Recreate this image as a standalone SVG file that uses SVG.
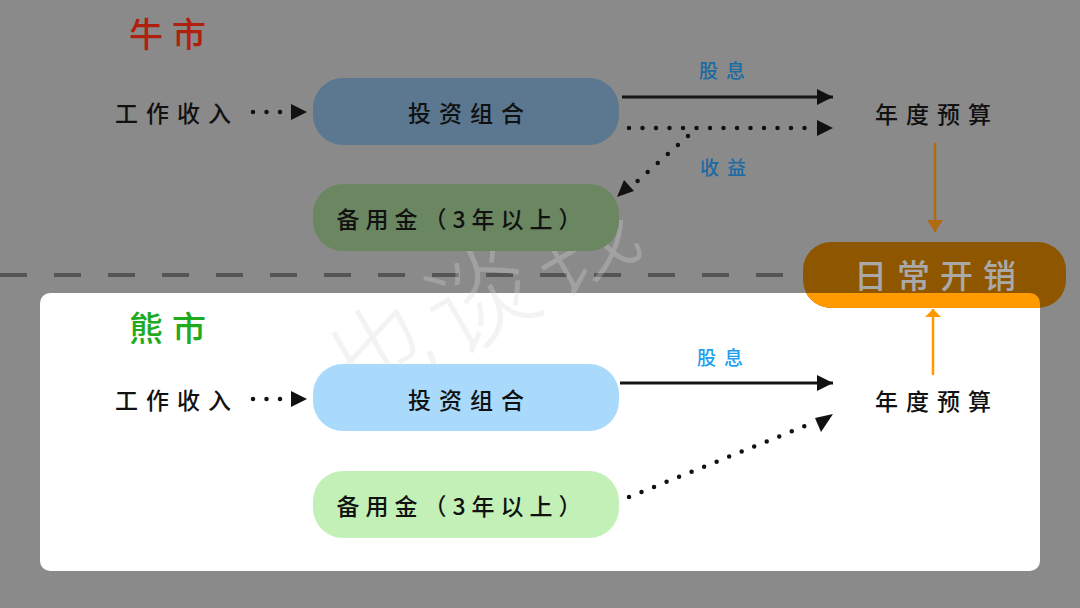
<svg xmlns="http://www.w3.org/2000/svg" width="1080" height="608" viewBox="0 0 1080 608">
<style>
text{font-family:"Noto Sans CJK SC","Noto Sans",sans-serif;}
.lbl{font-size:23px;font-weight:500;fill:#111;letter-spacing:8px;text-anchor:middle;dominant-baseline:central;}
.title{font-size:34px;font-weight:500;letter-spacing:9px;}
.edge{font-size:19px;font-weight:500;letter-spacing:8px;text-anchor:middle;dominant-baseline:central;}
.solid{stroke:#151515;stroke-width:3;fill:none;marker-end:url(#ah);}
.dot{stroke:#111;stroke-width:4.5;stroke-linecap:round;stroke-dasharray:0 13.5;fill:none;}
</style>
<defs>
<marker id="ah" markerUnits="userSpaceOnUse" markerWidth="17" markerHeight="17" refX="16" refY="8" orient="auto" viewBox="0 0 17 16">
<path d="M0,0 L16,8 L0,16 Z" fill="#111"/>
</marker>
<marker id="ahO" markerUnits="userSpaceOnUse" markerWidth="21" markerHeight="16" refX="15" refY="10" orient="auto" viewBox="0 0 16 20">
<path d="M0,0 L15,10 L0,20 Z" fill="#b06a12"/>
</marker>
<marker id="ahO2" markerUnits="userSpaceOnUse" markerWidth="21" markerHeight="16" refX="10" refY="10" orient="auto" viewBox="0 0 16 20">
<path d="M0,0 L10,10 L0,20 Z" fill="#ff9900"/>
</marker>
<clipPath id="panelClip"><rect x="40" y="293" width="1000" height="278" rx="10"/></clipPath>
</defs>

<rect x="0" y="0" width="1080" height="608" fill="#8a8a8a"/>
<rect id="panel" x="40" y="293" width="1000" height="278" rx="10" fill="#ffffff"/>

<line x1="0" y1="275" x2="790" y2="275" stroke="#555" stroke-width="4" stroke-dasharray="27 27"/>

<text x="485" y="335" font-size="108" font-weight="300" fill="#d6d6d6" fill-opacity="0.3" transform="rotate(-30 485 300)" style="font-family:'Noto Sans CJK SC',sans-serif;letter-spacing:8px" text-anchor="middle">也谈钱</text>

<!-- bull market -->
<g id="bull-title"><text class="title" x="129" y="47" fill="#b0200f">牛市</text></g>
<g id="bull-income"><text class="lbl" x="177" y="112">工作收入</text></g>
<g id="bull-portfolio">
<rect x="313" y="78" width="306" height="67" rx="30" fill="#5b7890"/>
<text class="lbl" x="470" y="112">投资组合</text>
</g>
<g id="bull-reserve">
<rect x="313" y="184" width="306" height="67" rx="30" fill="#6a8762"/>
<text class="lbl" x="462" y="218" style="letter-spacing:6px">备用金（3年以上）</text>
</g>
<g id="bull-budget"><text class="lbl" x="937" y="113">年度预算</text></g>

<g id="daily">
<rect x="803" y="242" width="263" height="66" rx="28" fill="#8f5600"/>
<rect x="803" y="242" width="263" height="66" rx="28" fill="#ff9a00" clip-path="url(#panelClip)"/>
<text x="940" y="274" font-size="33" font-weight="500" fill="#a9a9a9" text-anchor="middle" dominant-baseline="central" style="letter-spacing:10px">日常开销</text>
</g>

<!-- bear market -->
<g id="bear-title"><text class="title" x="129" y="341" fill="#1faa1f">熊市</text></g>
<g id="bear-income"><text class="lbl" x="177" y="399">工作收入</text></g>
<g id="bear-portfolio">
<rect x="313" y="364" width="306" height="67" rx="30" fill="#a9dafc"/>
<text class="lbl" x="470" y="399">投资组合</text>
</g>
<g id="bear-reserve">
<rect x="313" y="471" width="306" height="67" rx="30" fill="#c3f0b6"/>
<text class="lbl" x="462" y="505" style="letter-spacing:6px">备用金（3年以上）</text>
</g>
<g id="bear-budget"><text class="lbl" x="937" y="400">年度预算</text></g>

<g id="connectors">
<line class="dot" x1="253" y1="112" x2="282" y2="112"/>
<path d="M291,104 L307,112 L291,120 Z" fill="#111"/>
<line class="solid" x1="622" y1="97" x2="833" y2="97"/>
<line class="dot" x1="629" y1="128" x2="805" y2="128"/>
<path d="M817,120 L833,128 L817,136 Z" fill="#111"/>
<line class="dot" x1="688" y1="136" x2="633" y2="185"/>
<path d="M617,197 L624,180 L634,191 Z" fill="#111"/>
<text class="edge" x="726" y="69" fill="#1a6aa3">股息</text>
<text class="edge" x="727" y="166" fill="#1a6aa3">收益</text>
<line x1="935" y1="143" x2="935" y2="232" stroke="#b06a12" stroke-width="2.5" marker-end="url(#ahO)"/>

<line class="dot" x1="253" y1="399" x2="282" y2="399"/>
<path d="M291,391 L307,399 L291,407 Z" fill="#111"/>
<line class="solid" x1="620" y1="383" x2="833" y2="383"/>
<line class="dot" x1="629" y1="497" x2="805" y2="426"/>
<path d="M833,414 L821,432 L815,418 Z" fill="#111"/>
<text class="edge" x="724" y="356" fill="#1e9ef0">股息</text>
<line x1="933" y1="375" x2="933" y2="309" stroke="#ff9900" stroke-width="2.5" marker-end="url(#ahO2)"/>
</g>
</svg>
